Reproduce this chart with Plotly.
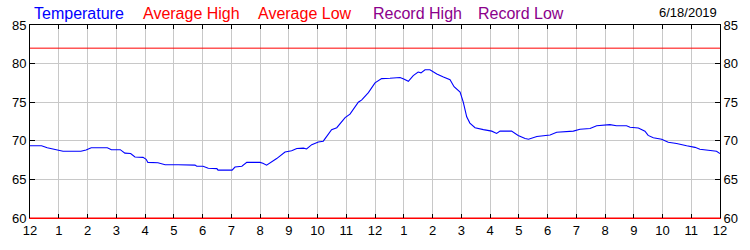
import plotly.graph_objects as go

hours = [0, 0.4, 0.6, 0.9, 1.15, 1.5, 1.77, 1.95, 2.13, 2.4, 2.69, 2.83, 3.14, 3.3, 3.5, 3.65, 3.93,
         4.04, 4.1, 4.45, 4.7, 5.15, 5.74, 5.8, 6.02, 6.2, 6.5, 6.54, 7.03, 7.13, 7.37, 7.54, 8.0,
         8.1, 8.23, 8.58, 8.87, 9.1, 9.28, 9.51, 9.62, 9.8, 10.03, 10.2, 10.49, 10.67, 10.96, 11.13,
         11.42, 11.54, 11.77, 12.0, 12.23, 12.52, 12.87, 13.0, 13.16, 13.33, 13.5, 13.6, 13.74, 13.91,
         14.15, 14.38, 14.61, 14.75, 14.96, 15.07, 15.19, 15.3, 15.48, 15.77, 16.06, 16.23, 16.35,
         16.75, 16.98, 17.22, 17.34, 17.63, 17.86, 18.09, 18.32, 18.9, 19.13, 19.48, 19.71, 20.17,
         20.4, 20.75, 20.87, 21.16, 21.39, 21.5, 21.68, 21.97, 22.2, 22.49, 22.84, 23.13, 23.3,
         23.65, 23.88, 24.0]
temperature = [69.35, 69.35, 69.1, 68.8, 68.65, 68.65, 68.65, 68.8, 69.1, 69.1, 69.1, 68.85, 68.85,
               68.4, 68.35, 67.9, 67.85, 67.6, 67.2, 67.15, 66.9, 66.9, 66.85, 66.7, 66.7, 66.45, 66.4,
               66.2, 66.2, 66.6, 66.7, 67.2, 67.2, 67.1, 66.85, 67.7, 68.55, 68.7, 69.0, 69.05, 68.95,
               69.5, 69.85, 69.95, 71.45, 71.7, 73.0, 73.45, 75.0, 75.3, 76.25, 77.5, 78.05, 78.1, 78.2,
               78.0, 77.7, 78.45, 78.9, 78.8, 79.2, 79.2, 78.65, 78.25, 77.9, 77.0, 76.3, 75.0, 73.1,
               72.3, 71.7, 71.45, 71.25, 70.95, 71.25, 71.25, 70.7, 70.3, 70.2, 70.55, 70.7, 70.75,
               71.1, 71.25, 71.5, 71.6, 71.95, 72.1, 71.95, 71.95, 71.75, 71.65, 71.25, 70.7, 70.4,
               70.2, 69.8, 69.65, 69.35, 69.15, 68.9, 68.75, 68.65, 68.35]
avg_high = 82
avg_low = 60
x_ticks = list(range(0, 25))
x_labels = ["12", "1", "2", "3", "4", "5", "6", "7", "8", "9", "10", "11",
            "12", "1", "2", "3", "4", "5", "6", "7", "8", "9", "10", "11", "12"]
y_ticks = [60, 65, 70, 75, 80, 85]
legend_items = ["Temperature", "Average High", "Average Low", "Record High", "Record Low"]
legend_colors = ["#0000ff", "#ff0000", "#ff0000", "#8b008b", "#8b008b"]
legend_px = [32, 141, 256, 371, 476]
date_label = "6/18/2019"

W, H = 750, 250
L, R, T, B = 30, 30, 25, 25
pw = W - L - R
ph = H - T - B

FONT = "Liberation Sans, Arial, sans-serif"

fig = go.Figure()
fig.add_trace(go.Scatter(x=[0, 24], y=[avg_high, avg_high], mode="lines",
                         line=dict(color="#ff0000", width=1), hoverinfo="skip", xaxis="x2"))
fig.add_trace(go.Scatter(x=[0, 24], y=[avg_low, avg_low], mode="lines",
                         line=dict(color="#ff0000", width=1.2), hoverinfo="skip", cliponaxis=False))
fig.add_trace(go.Scatter(x=hours, y=temperature, mode="lines",
                         line=dict(color="#0000ff", width=1.1), hoverinfo="skip"))
fig.add_trace(go.Scatter(x=[0, 24], y=[avg_high, avg_high], mode="lines",
                         line=dict(width=0), hoverinfo="skip", yaxis="y2", showlegend=False))

axis_common = dict(showline=True, linecolor="black", linewidth=1, ticks="inside",
                   ticklen=5, tickcolor="black", tickfont=dict(family=FONT, size=13, color="black"),
                   zeroline=False)

fig.update_layout(
    width=W, height=H, margin=dict(l=L, r=R, t=T, b=B),
    paper_bgcolor="white", plot_bgcolor="white", showlegend=False,
    xaxis=dict(range=[0, 24], tickmode="array", tickvals=x_ticks, ticktext=x_labels,
               showgrid=True, gridcolor="#c8c8c8", gridwidth=1,
               showline=True, linecolor="#ff0000", ticks="inside", ticklen=4, tickcolor="black",
               tickfont=dict(family=FONT, size=13, color="black"), zeroline=False, fixedrange=True),
    xaxis2=dict(range=[0, 24], overlaying="x", side="top", tickmode="array", tickvals=x_ticks,
                showticklabels=False, showgrid=False, showline=True, linecolor="black",
                ticks="inside", ticklen=4, tickcolor="black", zeroline=False),
    yaxis=dict(range=[60, 85], tickmode="array", tickvals=y_ticks, showgrid=True,
               gridcolor="#c8c8c8", gridwidth=1, **axis_common),
    yaxis2=dict(range=[60, 85], tickmode="array", tickvals=y_ticks, overlaying="y", side="right",
                showgrid=False, **axis_common),
)

for name, color, px in zip(legend_items, legend_colors, legend_px):
    fig.add_annotation(text=name, xref="paper", yref="paper", x=(px - L) / pw, y=(H - B - 13) / ph,
                       xanchor="left", yanchor="middle", showarrow=False,
                       font=dict(family=FONT, size=16, color=color))
fig.add_annotation(text=date_label, xref="paper", yref="paper", x=(719 - L) / pw, y=(H - B - 12) / ph,
                   xanchor="right", yanchor="middle", showarrow=False,
                   font=dict(family=FONT, size=13, color="black"))

fig.write_html("out.html")
